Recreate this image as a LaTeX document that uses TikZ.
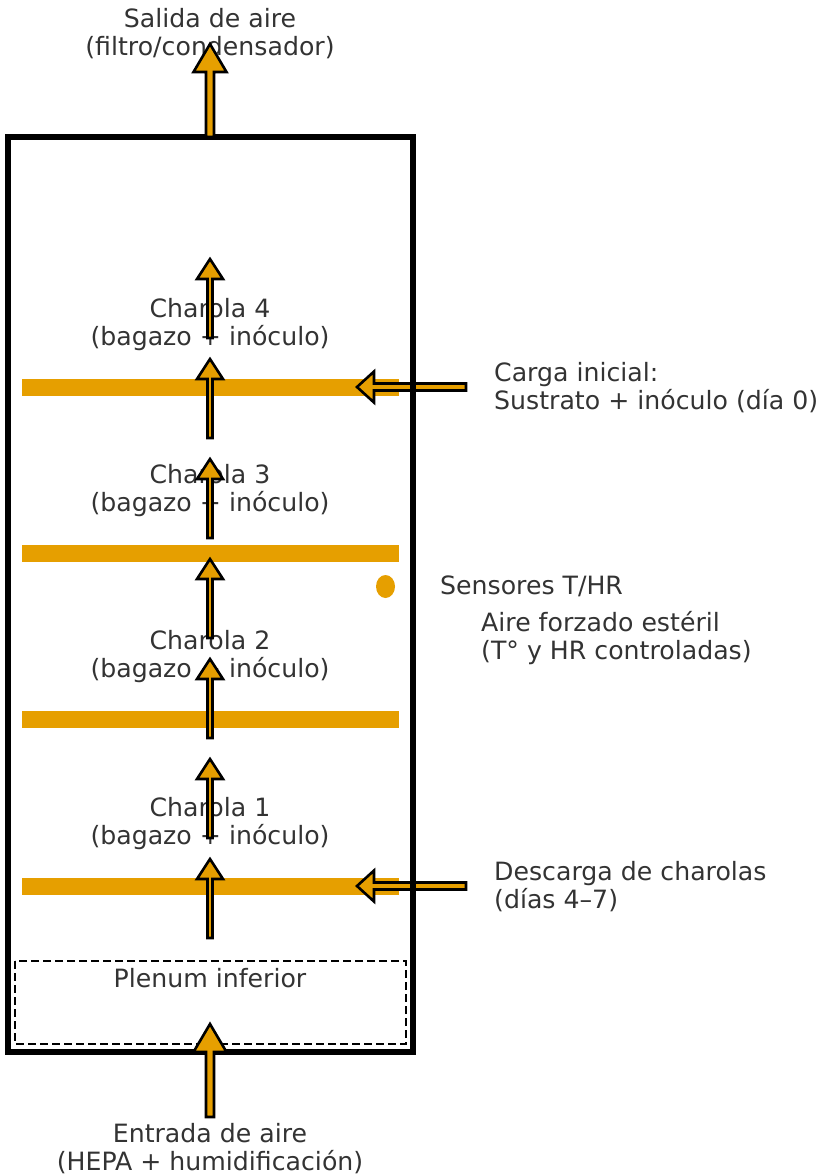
\documentclass[tikz,border=0pt]{standalone}
\usepackage{fontspec}
\setmainfont{DejaVu Sans}
\usetikzlibrary{calc,shapes.geometric}
\definecolor{orng}{HTML}{E69F00}
\definecolor{txt}{HTML}{333333}
\tikzset{
  lbl/.style={text=txt, font=\fontsize{25.2}{28}\selectfont, inner sep=0pt},
  fatarrow/.style={fill=orng, draw=black, line width=2.6pt, line join=miter},
  tray/.style={fill=orng, draw=none, minimum width=377pt, minimum height=17pt, inner sep=0pt},
  chamber/.style={draw=black, line width=6pt, fill=none},
  plenum/.style={draw=black, line width=2.5pt, dash pattern=on 8pt off 4pt},
}
\newcommand\fatarrow[5]{%
  \coordinate (fa-base) at ($(#2)!#5!(#1)$);
  \draw[fatarrow] ($(#1)!#3!90:(#2)$) -- ($(fa-base)!#3!90:(#2)$) -- ($(fa-base)!#4!90:(#2)$)
    -- (#2) -- ($(fa-base)!#4!-90:(#2)$) -- ($(fa-base)!#3!-90:(#2)$) -- ($(#1)!#3!-90:(#2)$) -- cycle;
}
\begin{document}
\begin{tikzpicture}[x=1pt,y=-1pt]
\useasboundingbox (0,0) rectangle (828,1176);
% texts (base anchor = baseline of the last line)
\node[lbl, anchor=base, align=center] (salida) at (210,55) {Salida de aire\\(filtro/condensador)};
\node[lbl, anchor=base, align=center] (ch4) at (210,345) {Charola 4\\(bagazo + inóculo)};
\node[lbl, anchor=base, align=center] (ch3) at (210,511) {Charola 3\\(bagazo + inóculo)};
\node[lbl, anchor=base, align=center] (ch2) at (210,677) {Charola 2\\(bagazo + inóculo)};
\node[lbl, anchor=base, align=center] (ch1) at (210,844) {Charola 1\\(bagazo + inóculo)};
\node[lbl, anchor=base west, align=left] (carga) at (494,409) {Carga inicial:\\Sustrato + inóculo (día 0)};
\node[lbl, anchor=base west] (sens) at (440,594) {Sensores T/HR};
\node[lbl, anchor=base west, align=left] (aire) at (481,659) {Aire forzado estéril\\(T° y HR controladas)};
\node[lbl, anchor=base west, align=left] (desc) at (494,908) {Descarga de charolas\\(días 4–7)};
\node[lbl, anchor=base] (plen) at (210,987) {Plenum inferior};
\node[lbl, anchor=base, align=center] (entrada) at (210,1170) {Entrada de aire\\(HEPA + humidificación)};
% trays
\node[tray] (t4) at (210.5,387) {};
\node[tray] (t3) at (210.5,553) {};
\node[tray] (t2) at (210.5,719) {};
\node[tray] (t1) at (210.5,886) {};
% sensor
\node[fill=orng, ellipse, minimum width=19pt, minimum height=23pt, inner sep=0pt] (sensor) at (385.5,586.5) {};
% side arrows
\coordinate (cargaTail) at (466,387);
\coordinate (cargaTip) at (357,387);
\fatarrow{cargaTail}{cargaTip}{3.5pt}{15.5pt}{17pt}
\coordinate (descTail) at (466,886);
\coordinate (descTip) at (357,886);
\fatarrow{descTail}{descTip}{3.5pt}{15.5pt}{17pt}
% chamber and plenum
\draw[plenum] (15,961) rectangle (406,1044);
\node[chamber, minimum width=405pt, minimum height=915pt, inner sep=0pt] (box) at (210.5,594.5) {};
% vertical small arrows
\foreach \i/\t in {1/259,2/359,3/459,4/559,5/659,6/759,7/859}{
  \coordinate (u\i t) at (210,\t);
  \coordinate (u\i b) at (210,\t+79);
  \fatarrow{u\i b}{u\i t}{2.5pt}{13pt}{20pt}
}
% outlet / inlet arrows
\coordinate (outTail) at (210,137);
\coordinate (outTip) at (210,44);
\fatarrow{outTail}{outTip}{4pt}{16.5pt}{28pt}
\coordinate (inTail) at (210,1117);
\coordinate (inTip) at (210,1024);
\fatarrow{inTail}{inTip}{4pt}{16.5pt}{28pt}
\end{tikzpicture}
\end{document}
